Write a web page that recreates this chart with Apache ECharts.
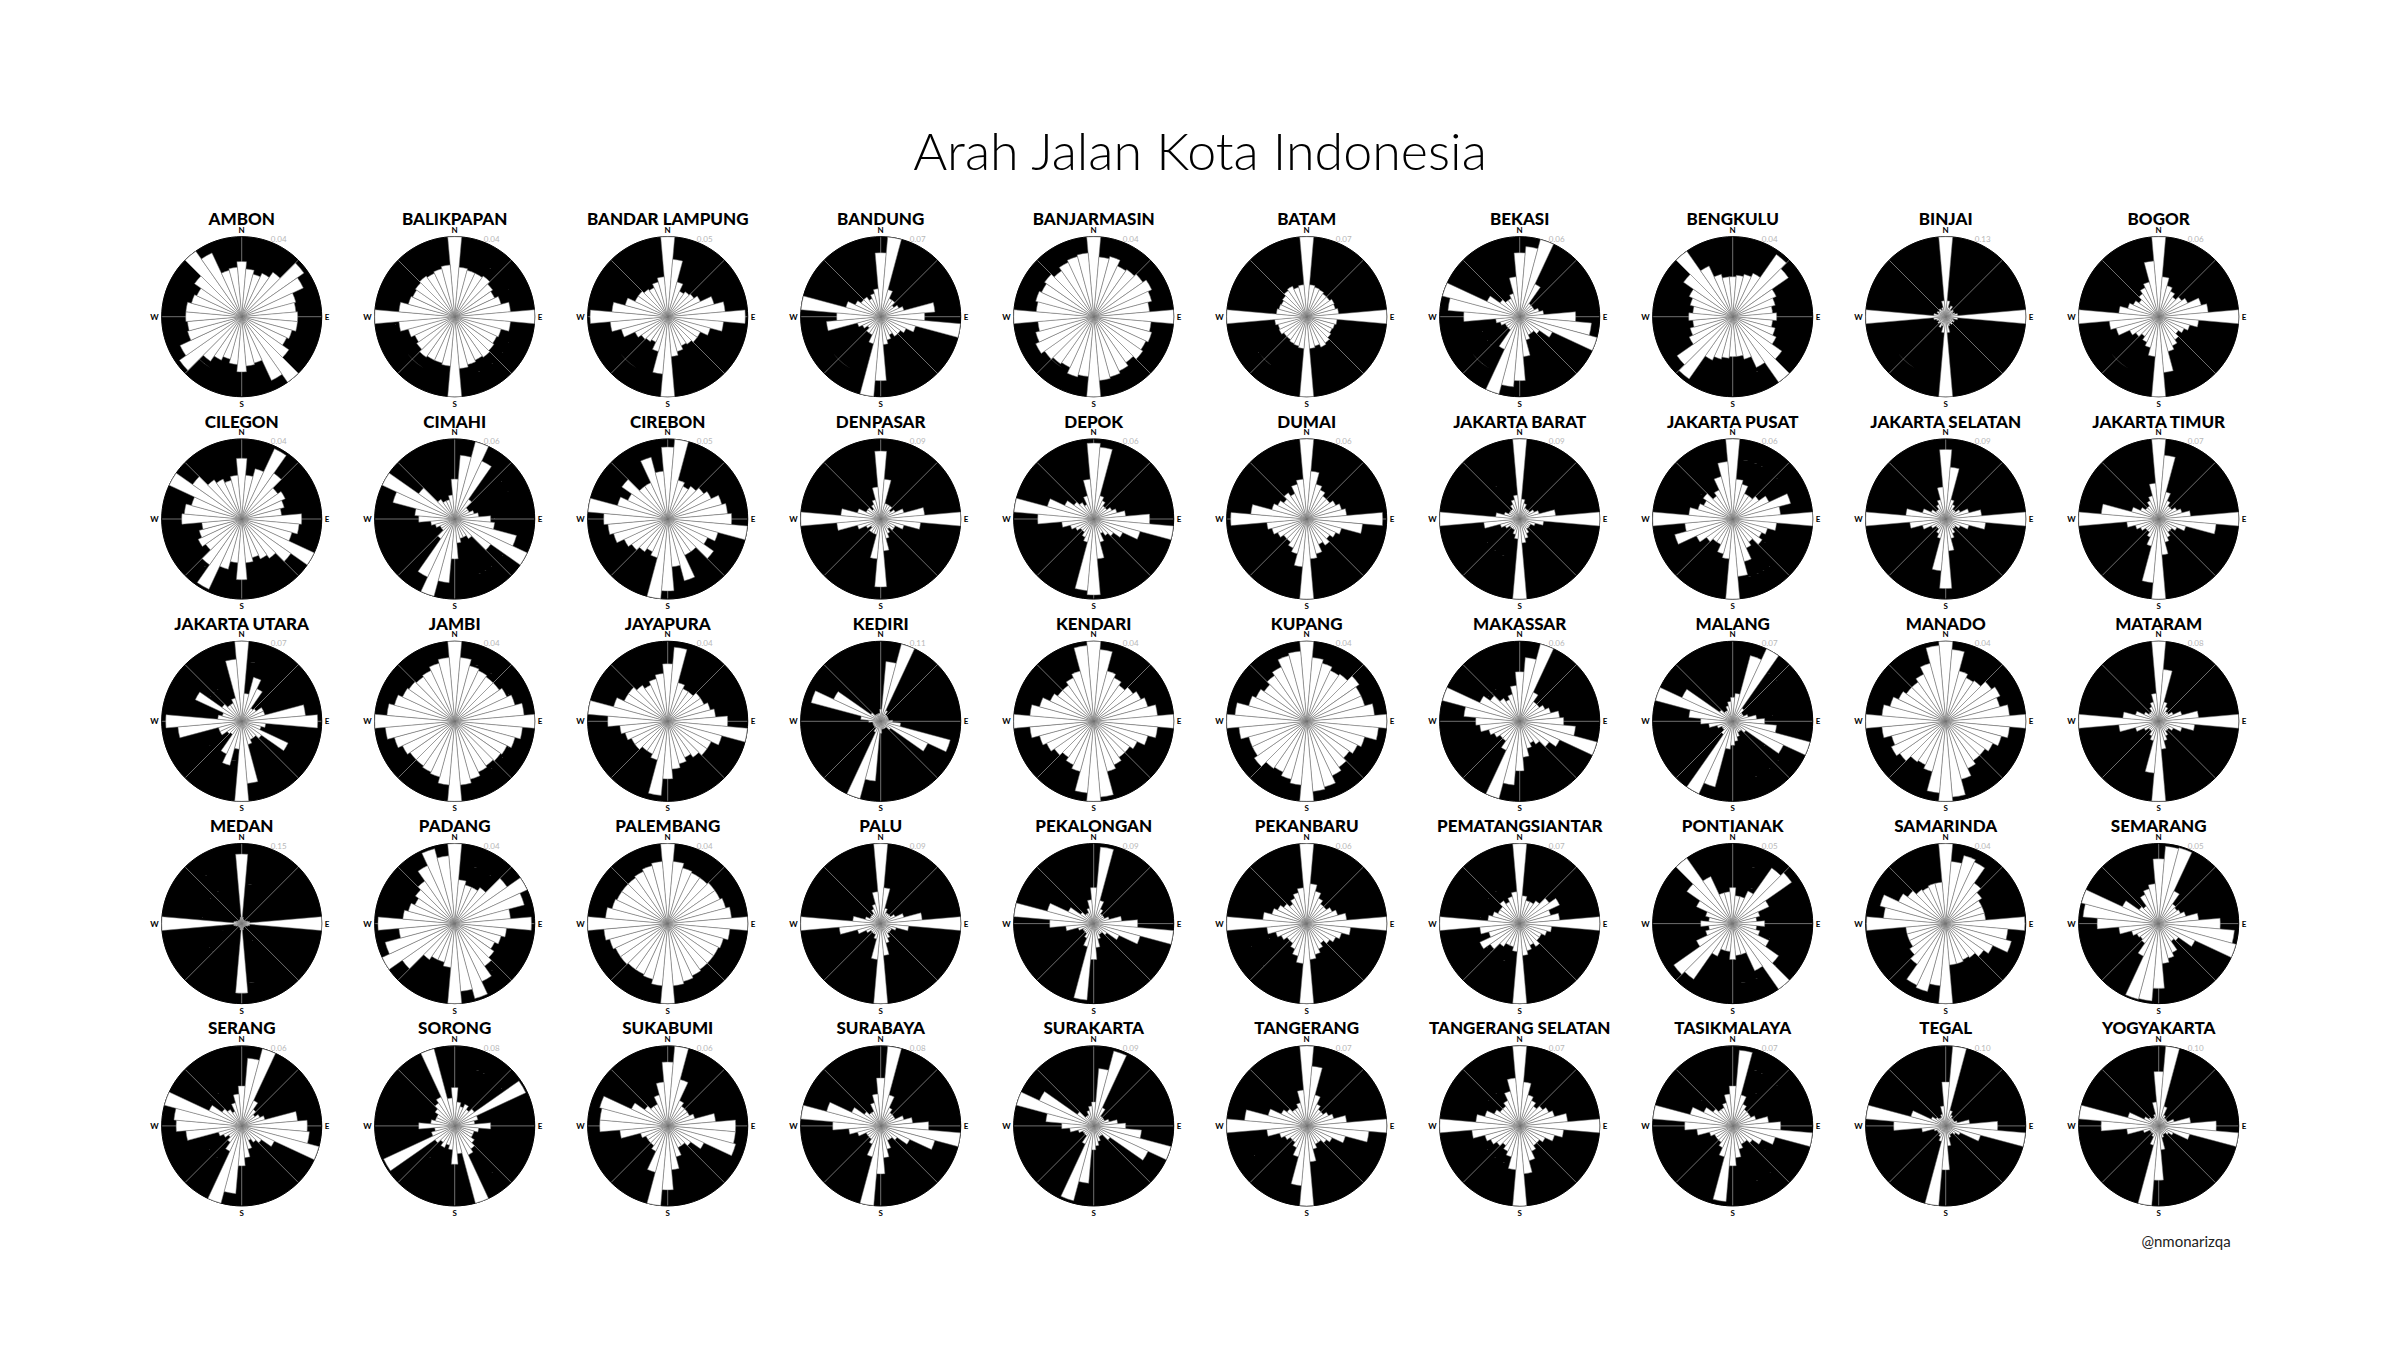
<!DOCTYPE html>
<html><head><meta charset="utf-8">
<script src="https://cdn.jsdelivr.net/npm/echarts@6/dist/echarts.min.js"></script>
<style>html,body{margin:0;padding:0;background:#fff;}#c{width:2400px;height:1350px;}</style>
</head><body><div id="c"></div>
<script>
// City names (row by row, left to right)
const cities = ['AMBON','BALIKPAPAN','BANDAR LAMPUNG','BANDUNG','BANJARMASIN','BATAM','BEKASI','BENGKULU','BINJAI','BOGOR',
  'CILEGON','CIMAHI','CIREBON','DENPASAR','DEPOK','DUMAI','JAKARTA BARAT','JAKARTA PUSAT','JAKARTA SELATAN','JAKARTA TIMUR',
  'JAKARTA UTARA','JAMBI','JAYAPURA','KEDIRI','KENDARI','KUPANG','MAKASSAR','MALANG','MANADO','MATARAM',
  'MEDAN','PADANG','PALEMBANG','PALU','PEKALONGAN','PEKANBARU','PEMATANGSIANTAR','PONTIANAK','SAMARINDA','SEMARANG',
  'SERANG','SORONG','SUKABUMI','SURABAYA','SURAKARTA','TANGERANG','TANGERANG SELATAN','TASIKMALAYA','TEGAL','YOGYAKARTA'];
// Outer-ring (largest bin) frequency label of each rose
const maxLabels = ['0.04','0.04','0.05','0.07','0.04','0.07','0.06','0.04','0.13','0.06',
  '0.04','0.06','0.05','0.09','0.06','0.06','0.09','0.06','0.09','0.07',
  '0.07','0.04','0.04','0.11','0.04','0.04','0.06','0.07','0.04','0.08',
  '0.15','0.04','0.04','0.09','0.09','0.06','0.07','0.05','0.04','0.05',
  '0.06','0.08','0.06','0.08','0.09','0.07','0.07','0.07','0.10','0.10'];
// Bin bearings for one half-circle (streets are bidirectional: bin b equals bin b+180)
const halfBearings = [0,10,20,30,40,50,60,70,80,90,100,110,120,130,140,150,160,170];
const dirLabels = {0:'N',90:'E',180:'S',270:'W'};
// Bar length of each 10-degree bin, as a share of the city's largest bin
const ambon = [0.69,0.6,0.55,0.6,0.68,0.95,0.85,0.7,0.68,0.7,0.7,0.65,0.62,0.72,1.0,0.88,0.6,0.62];
const balikpapan = [1.0,0.62,0.6,0.6,0.62,0.58,0.55,0.6,0.7,1.0,0.7,0.6,0.58,0.6,0.62,0.6,0.62,0.65];
const bandarLampung = [1.0,0.72,0.45,0.35,0.38,0.4,0.45,0.6,0.72,0.97,0.7,0.55,0.45,0.45,0.42,0.4,0.45,0.5];
const bandung = [0.8,1.0,0.35,0.25,0.25,0.2,0.25,0.3,0.68,0.55,1.0,0.45,0.35,0.3,0.3,0.25,0.3,0.35];
const banjarmasin = [1.0,0.75,0.78,0.7,0.72,0.75,0.8,0.75,0.7,1.0,0.72,0.75,0.72,0.75,0.7,0.75,0.78,0.8];
const batam = [1.0,0.4,0.38,0.37,0.35,0.35,0.38,0.37,0.4,1.0,0.38,0.36,0.35,0.37,0.4,0.42,0.38,0.4];
const bekasi = [0.8,0.88,1.0,0.45,0.2,0.2,0.2,0.25,0.3,0.7,0.9,1.0,0.45,0.3,0.25,0.25,0.3,0.5];
const bengkulu = [0.5,0.52,0.55,0.6,0.95,0.85,0.6,0.55,0.5,0.55,0.5,0.55,0.6,0.75,1.0,0.7,0.55,0.5];
const binjai = [1.0,0.2,0.12,0.15,0.1,0.12,0.1,0.12,0.15,1.0,0.15,0.1,0.12,0.1,0.12,0.1,0.12,0.2];
const bogor = [1.0,0.5,0.4,0.35,0.3,0.35,0.4,0.55,0.62,1.0,0.5,0.4,0.35,0.3,0.35,0.4,0.45,0.7];
const cilegon = [0.76,0.55,0.65,0.97,0.7,0.55,0.6,0.55,0.5,0.75,0.72,0.65,1.0,0.75,0.6,0.55,0.5,0.55];
const cimahi = [0.5,0.8,1.0,0.8,0.3,0.2,0.2,0.25,0.3,0.45,0.5,0.8,1.0,0.55,0.3,0.25,0.25,0.3];
const cirebon = [0.9,1.0,0.5,0.45,0.5,0.55,0.6,0.7,0.75,0.8,1.0,0.65,0.55,0.7,0.5,0.5,0.8,0.6];
const denpasar = [0.85,0.5,0.2,0.2,0.2,0.15,0.2,0.3,0.55,1.0,0.5,0.3,0.2,0.2,0.15,0.2,0.25,0.4];
const depok = [0.95,0.9,0.3,0.25,0.2,0.2,0.25,0.3,0.4,0.7,1.0,0.6,0.4,0.3,0.25,0.2,0.3,0.5];
const dumai = [1.0,0.6,0.45,0.4,0.35,0.35,0.4,0.45,0.5,0.95,0.7,0.45,0.4,0.35,0.4,0.35,0.45,0.5];
const jakartaBarat = [1.0,0.25,0.2,0.15,0.15,0.15,0.2,0.25,0.45,1.0,0.3,0.2,0.15,0.15,0.15,0.2,0.25,0.3];
const jakartaPusat = [1.0,0.5,0.45,0.35,0.35,0.4,0.5,0.75,0.6,1.0,0.55,0.45,0.4,0.45,0.35,0.4,0.55,0.72];
const jakartaSelatan = [0.87,0.65,0.25,0.2,0.15,0.15,0.2,0.3,0.45,1.0,0.5,0.3,0.2,0.15,0.15,0.2,0.25,0.4];
const jakartaTimur = [1.0,0.8,0.35,0.25,0.2,0.2,0.25,0.3,0.4,1.0,0.72,0.35,0.25,0.2,0.2,0.25,0.3,0.45];
const jakartaUtara = [1.0,0.35,0.57,0.45,0.2,0.22,0.3,0.3,0.8,0.95,0.3,0.25,0.64,0.3,0.25,0.25,0.3,0.78];
const jambi = [1.0,0.8,0.72,0.7,0.68,0.68,0.72,0.78,0.87,1.0,0.85,0.78,0.72,0.7,0.68,0.7,0.75,0.8];
const jayapura = [0.72,0.93,0.5,0.45,0.45,0.5,0.5,0.55,0.6,0.75,1.0,0.7,0.6,0.6,0.55,0.5,0.55,0.6];
const kediri = [0.15,0.75,1.0,0.15,0.1,0.1,0.1,0.1,0.1,0.15,0.25,0.9,0.65,0.15,0.1,0.1,0.1,0.1];
const kendari = [1.0,0.9,0.65,0.6,0.55,0.6,0.65,0.7,0.8,1.0,0.8,0.7,0.6,0.55,0.55,0.6,0.65,0.95];
const kupang = [1.0,0.8,0.75,0.7,0.72,0.8,0.75,0.75,0.85,1.0,0.9,0.75,0.7,0.65,0.7,0.75,0.85,0.88];
const makassar = [0.62,0.8,1.0,0.4,0.3,0.3,0.35,0.4,0.5,0.55,0.7,1.0,0.55,0.45,0.35,0.3,0.35,0.45];
const malang = [0.3,0.35,0.85,1.0,0.2,0.15,0.15,0.2,0.3,0.4,0.55,1.0,0.7,0.2,0.15,0.15,0.2,0.25];
const manado = [1.0,0.9,0.65,0.6,0.62,0.7,0.75,0.7,0.8,1.0,0.8,0.72,0.65,0.6,0.6,0.65,0.75,0.95];
const mataram = [1.0,0.65,0.25,0.2,0.15,0.15,0.2,0.3,0.5,1.0,0.45,0.3,0.2,0.15,0.15,0.2,0.25,0.35];
const medan = [0.87,0.08,0.06,0.05,0.05,0.05,0.06,0.08,0.1,1.0,0.1,0.08,0.06,0.05,0.05,0.05,0.06,0.08];
const padang = [1.0,0.55,0.5,0.5,0.55,0.8,1.0,0.9,0.7,0.96,0.65,0.6,0.55,0.6,0.65,0.8,0.97,0.85];
const palembang = [1.0,0.78,0.72,0.7,0.7,0.72,0.72,0.75,0.8,1.0,0.78,0.72,0.7,0.7,0.7,0.72,0.75,0.78];
const palu = [1.0,0.45,0.2,0.15,0.15,0.15,0.2,0.3,0.52,1.0,0.35,0.2,0.15,0.15,0.15,0.2,0.25,0.4];
const pekalongan = [0.45,0.96,0.3,0.2,0.15,0.15,0.15,0.2,0.35,0.55,1.0,0.6,0.35,0.2,0.15,0.15,0.2,0.3];
const pekanbaru = [1.0,0.5,0.42,0.35,0.3,0.3,0.35,0.4,0.5,1.0,0.55,0.45,0.4,0.35,0.3,0.35,0.4,0.45];
const pematangsiantar = [1.0,0.35,0.3,0.3,0.35,0.45,0.55,0.4,0.5,1.0,0.4,0.35,0.3,0.3,0.35,0.3,0.35,0.4];
const pontianak = [0.45,0.35,0.35,0.45,0.85,0.9,0.5,0.35,0.3,0.4,0.3,0.35,0.5,0.7,1.0,0.65,0.4,0.4];
const samarinda = [1.0,0.78,0.88,0.85,0.62,0.55,0.5,0.5,0.5,0.99,0.78,0.85,0.65,0.58,0.52,0.5,0.52,0.52];
const semarang = [0.81,0.97,0.98,0.45,0.3,0.28,0.3,0.35,0.5,0.77,0.95,1.0,0.5,0.3,0.27,0.4,0.45,0.5];
const serang = [0.5,0.85,1.0,0.35,0.25,0.2,0.25,0.3,0.7,0.82,0.85,1.0,0.45,0.3,0.25,0.2,0.3,0.4];
const sorong = [0.48,0.3,0.25,0.3,0.25,0.3,0.98,0.3,0.25,0.45,0.3,0.25,0.25,0.3,0.35,0.4,1.0,0.35];
const sukabumi = [0.8,1.0,0.6,0.35,0.3,0.3,0.3,0.35,0.6,0.85,0.85,0.88,0.5,0.35,0.3,0.3,0.4,0.55];
const surabaya = [0.6,1.0,0.4,0.25,0.2,0.2,0.2,0.3,0.4,0.6,1.0,0.7,0.4,0.25,0.2,0.2,0.3,0.4];
const surakarta = [0.3,0.72,0.97,0.25,0.15,0.15,0.15,0.2,0.3,0.4,0.6,1.0,0.75,0.25,0.15,0.15,0.2,0.25];
const tangerang = [1.0,0.75,0.4,0.3,0.25,0.25,0.3,0.35,0.5,1.0,0.78,0.5,0.35,0.3,0.25,0.25,0.3,0.45];
const tangerangSelatan = [1.0,0.55,0.4,0.35,0.3,0.35,0.4,0.45,0.6,1.0,0.55,0.45,0.35,0.3,0.3,0.35,0.45,0.6];
const tasikmalaya = [0.5,0.95,0.4,0.3,0.25,0.25,0.25,0.3,0.45,0.6,1.0,0.55,0.4,0.3,0.25,0.25,0.3,0.4];
const tegal = [0.55,1.0,0.2,0.15,0.12,0.12,0.12,0.15,0.3,0.65,1.0,0.45,0.2,0.15,0.12,0.12,0.15,0.25];
const yogyakarta = [0.68,1.0,0.25,0.15,0.12,0.12,0.12,0.2,0.4,0.72,1.0,0.4,0.2,0.15,0.12,0.12,0.15,0.3];

const cityValues = [ambon,balikpapan,bandarLampung,bandung,banjarmasin,batam,bekasi,bengkulu,binjai,bogor,
  cilegon,cimahi,cirebon,denpasar,depok,dumai,jakartaBarat,jakartaPusat,jakartaSelatan,jakartaTimur,
  jakartaUtara,jambi,jayapura,kediri,kendari,kupang,makassar,malang,manado,mataram,
  medan,padang,palembang,palu,pekalongan,pekanbaru,pematangsiantar,pontianak,samarinda,semarang,
  serang,sorong,sukabumi,surabaya,surakarta,tangerang,tangerangSelatan,tasikmalaya,tegal,yogyakarta];

// ---- layout ----
const COLS = 10, X0 = 241.7, DX = 213.0, Y0 = 316.7, DY = 202.3, R = 80;
const FONT = 'Lato, "Open Sans", sans-serif';

const polar = [], angleAxis = [], radiusAxis = [], series = [], graphic = [];
graphic.push({type:'text', x:1200, y:150, silent:true,
  style:{text:'Arah Jalan Kota Indonesia', fill:'#000', fontSize:52, fontWeight:300, fontFamily:FONT, align:'center', verticalAlign:'middle'}});
graphic.push({type:'text', x:2186, y:1241, silent:true,
  style:{text:'@nmonarizqa', fill:'#222', fontSize:15, fontFamily:FONT, align:'center', verticalAlign:'middle'}});

cities.forEach((name, i) => {
  const cx = X0 + DX * (i % COLS), cy = Y0 + DY * Math.floor(i / COLS);
  polar.push({center:[cx, cy], radius:R});
  angleAxis.push({polarIndex:i, type:'value', min:0, max:360, interval:45, startAngle:90, clockwise:true,
    axisLine:{show:true, lineStyle:{color:'#000', width:1}},
    axisTick:{show:false},
    axisLabel:{show:true, margin:3, fontSize:8, fontWeight:'bold', color:'#000', fontFamily:FONT,
      formatter:v => dirLabels[v] || ''},
    splitLine:{show:true, lineStyle:{color:'#8a8a8a', width:0.8}}});
  radiusAxis.push({polarIndex:i, type:'value', min:0, max:1, interval:0.25,
    axisLine:{show:false}, axisTick:{show:false}, axisLabel:{show:false},
    splitLine:{show:true, lineStyle:{color:'#8a8a8a', width:0.8}},
    splitArea:{show:true, areaStyle:{color:['#000']}}});
  const vals = cityValues[i];
  const data = [];
  halfBearings.forEach((b, k) => data.push([vals[k], b]));
  halfBearings.forEach((b, k) => data.push([vals[k], b + 180]));
  series.push({type:'bar', name:name, coordinateSystem:'polar', polarIndex:i, data:data,
    barWidth:'100%', barCategoryGap:'0%', silent:true,
    itemStyle:{color:'#fff', borderColor:'#707070', borderWidth:0.5}});
  graphic.push({type:'text', x:cx, y:cy - 98, silent:true,
    style:{text:name, fill:'#000', fontSize:17, fontWeight:900, fontFamily:FONT, align:'center', verticalAlign:'middle'}});
  graphic.push({type:'text', x:cx + 37, y:cy - 78, silent:true,
    style:{text:maxLabels[i], fill:'#b8b8b8', fontSize:8, fontFamily:FONT, align:'center', verticalAlign:'middle'}});
});

const chart = echarts.init(document.getElementById('c'), null, {renderer:'svg', width:2400, height:1350});
chart.setOption({backgroundColor:'#fff', animation:false, polar, angleAxis, radiusAxis, series, graphic});
</script></body></html>
